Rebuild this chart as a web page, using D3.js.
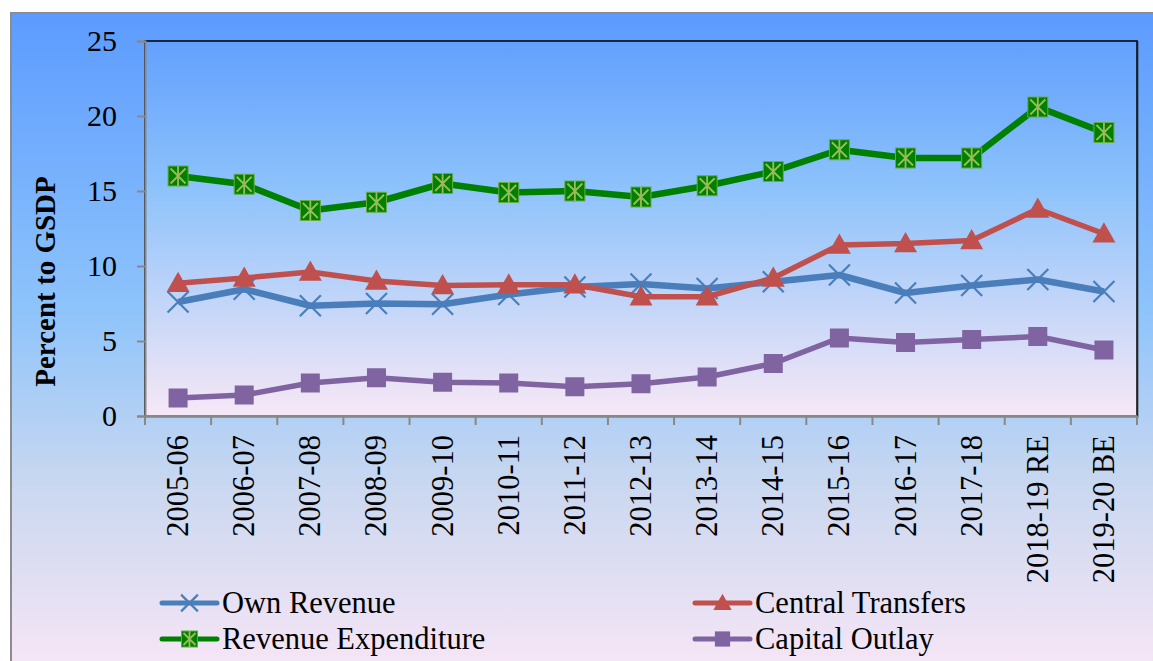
<!DOCTYPE html>
<html>
<head>
<meta charset="utf-8">
<script src="https://cdn.jsdelivr.net/npm/d3@7"></script>
<style>
  body { margin: 0; background: #fff; }
  text { font-family: "Liberation Serif", "Times New Roman", serif; }
</style>
</head>
<body>
<svg width="1153" height="661"></svg>
<script>
var years = ['2005-06','2006-07','2007-08','2008-09','2009-10','2010-11','2011-12','2012-13',
             '2013-14','2014-15','2015-16','2016-17','2017-18','2018-19 RE','2019-20 BE'];

var ownRevenue      = [7.6, 8.45, 7.35, 7.5, 7.45, 8.1, 8.6, 8.8, 8.5, 8.95, 9.4, 8.2, 8.7, 9.1, 8.3];
var centralTransfer = [8.85, 9.2, 9.6, 9.0, 8.7, 8.75, 8.75, 7.95, 7.95, 9.2, 11.4, 11.5, 11.7, 13.8, 12.15];
var revExpenditure  = [16.0, 15.45, 13.7, 14.25, 15.5, 14.9, 15.0, 14.6, 15.35, 16.3, 17.75, 17.2, 17.2, 20.6, 18.9];
var capitalOutlay   = [1.2, 1.4, 2.2, 2.55, 2.25, 2.2, 1.95, 2.15, 2.6, 3.5, 5.2, 4.9, 5.1, 5.3, 4.4];

var yTicks = [0, 5, 10, 15, 20, 25];

var series = [
  {name: 'Own Revenue', values: ownRevenue, color: '#4a7ebb', width: 6.5, marker: 'x'},
  {name: 'Central Transfers', values: centralTransfer, color: '#c0504d', width: 5.5, marker: 'tri'},
  {name: 'Revenue Expenditure', values: revExpenditure, color: '#008000', width: 6.5, marker: 'star'},
  {name: 'Capital Outlay', values: capitalOutlay, color: '#8064a2', width: 5.5, marker: 'sq'}
];

var svg = d3.select('svg');
var defs = svg.append('defs');

var outerGrad = defs.append('linearGradient').attr('id','outerGrad')
    .attr('x1',0).attr('y1',0).attr('x2',0).attr('y2',1);
outerGrad.append('stop').attr('offset','0%').attr('stop-color','#5c9bff');
outerGrad.append('stop').attr('offset','45%').attr('stop-color','#8ec4fb');
outerGrad.append('stop').attr('offset','72%').attr('stop-color','#cad8f0');
outerGrad.append('stop').attr('offset','100%').attr('stop-color','#f8e6f6');

var plotGrad = defs.append('linearGradient').attr('id','plotGrad')
    .attr('x1',0).attr('y1',0).attr('x2',0).attr('y2',1);
plotGrad.append('stop').attr('offset','0%').attr('stop-color','#62a0fd');
plotGrad.append('stop').attr('offset','40%').attr('stop-color','#8ec3fb');
plotGrad.append('stop').attr('offset','100%').attr('stop-color','#f7e8f6');

// outer chart area (runs past the right/bottom edge like the source)
svg.append('rect')
    .attr('x', 11).attr('y', 13).attr('width', 1160).attr('height', 660)
    .attr('fill', 'url(#outerGrad)')
    .attr('stroke', '#8c8c8c').attr('stroke-width', 2);

var plotL = 145, plotT = 41, plotW = 992, plotH = 375;

var x = d3.scaleBand().domain(years).range([plotL, plotL + plotW]);
var y = d3.scaleLinear().domain([0, 25]).range([plotT + plotH, plotT]);

// plot area
svg.append('rect')
    .attr('x', plotL + 1).attr('y', plotT + 1).attr('width', plotW).attr('height', plotH)
    .attr('fill', 'none').attr('stroke', '#333').attr('stroke-opacity', 0.35).attr('stroke-width', 2);
svg.append('rect')
    .attr('x', plotL).attr('y', plotT).attr('width', plotW).attr('height', plotH)
    .attr('fill', 'url(#plotGrad)')
    .attr('stroke', '#000').attr('stroke-width', 1.5);

// y axis
var yAxis = svg.append('g')
    .attr('transform', 'translate(' + plotL + ',0)')
    .call(d3.axisLeft(y).tickValues(yTicks).tickSize(8).tickPadding(20));
yAxis.select('.domain').attr('stroke', '#888').attr('stroke-width', 2);
yAxis.selectAll('.tick line').attr('stroke', '#888').attr('stroke-width', 2);
yAxis.selectAll('.tick text')
    .attr('font-size', 30).attr('fill', '#000')
    .attr('font-family', '"Liberation Serif", serif');

// x axis, ticks on category boundaries
var xAxis = svg.append('g')
    .attr('transform', 'translate(0,' + (plotT + plotH) + ')');
xAxis.append('line')
    .attr('x1', plotL).attr('x2', plotL + plotW)
    .attr('stroke', '#888').attr('stroke-width', 2);
xAxis.selectAll('.xtick')
    .data(years.concat(['end']))
    .enter().append('line')
    .attr('x1', function(d, i){ return plotL + i * x.step(); })
    .attr('x2', function(d, i){ return plotL + i * x.step(); })
    .attr('y1', 0).attr('y2', 9)
    .attr('stroke', '#888').attr('stroke-width', 2);
xAxis.selectAll('.xlab')
    .data(years)
    .enter().append('text')
    .attr('transform', function(d){
        return 'translate(' + (x(d) + x.bandwidth() / 2 + 10) + ',19) rotate(-90)';
    })
    .attr('text-anchor', 'end')
    .attr('font-size', 30.5)
    .text(function(d){ return d; });

// y title
svg.append('text')
    .attr('transform', 'translate(55,' + (plotT + plotH / 2 + 53) + ') rotate(-90)')
    .attr('text-anchor', 'middle')
    .attr('font-size', 29).attr('font-weight', 'bold')
    .text('Percent to GSDP');

function drawMarker(g, type, color, cx, cy, scale) {
    var s = scale || 1;
    if (type === 'x') {
        var r = 10.5 * s;
        g.append('path')
            .attr('d', 'M' + (cx - r) + ',' + (cy - r) + 'L' + (cx + r) + ',' + (cy + r) +
                       'M' + (cx - r) + ',' + (cy + r) + 'L' + (cx + r) + ',' + (cy - r))
            .attr('stroke', color).attr('stroke-width', 2.2).attr('fill', 'none');
    } else if (type === 'tri') {
        var h = 11.5 * s;
        g.append('path')
            .attr('d', 'M' + cx + ',' + (cy - h) + 'L' + (cx + h) + ',' + (cy + h * 0.75) +
                       'L' + (cx - h) + ',' + (cy + h * 0.75) + 'Z')
            .attr('fill', color);
    } else if (type === 'star') {
        var a = 10 * s;
        g.append('rect')
            .attr('x', cx - a).attr('y', cy - a).attr('width', 2 * a).attr('height', 2 * a)
            .attr('fill', '#008000').attr('stroke', '#6aaa45').attr('stroke-width', 1);
        var b = a * 0.75;
        g.append('path')
            .attr('d', 'M' + (cx - b) + ',' + (cy - b) + 'L' + (cx + b) + ',' + (cy + b) +
                       'M' + (cx - b) + ',' + (cy + b) + 'L' + (cx + b) + ',' + (cy - b) +
                       'M' + cx + ',' + (cy - a) + 'L' + cx + ',' + (cy + a))
            .attr('stroke', '#9bbb59').attr('stroke-width', 1.8).attr('fill', 'none');
    } else if (type === 'sq') {
        var q = 9.5 * s;
        g.append('rect')
            .attr('x', cx - q).attr('y', cy - q).attr('width', 2 * q).attr('height', 2 * q)
            .attr('fill', color);
    }
}

var line = d3.line()
    .x(function(d, i){ return x(years[i]) + x.bandwidth() / 2; })
    .y(function(d){ return y(d); });

series.forEach(function(s) {
    var g = svg.append('g');
    g.append('path')
        .attr('d', line(s.values))
        .attr('fill', 'none')
        .attr('stroke', s.color)
        .attr('stroke-width', s.width)
        .attr('stroke-linejoin', 'round');
    s.values.forEach(function(v, i) {
        drawMarker(g, s.marker, s.color, x(years[i]) + x.bandwidth() / 2, y(v));
    });
});

// legend
var legendPos = [
    {x: 162, y: 603}, {x: 695, y: 603}, {x: 162, y: 639}, {x: 695, y: 639}
];
series.forEach(function(s, i) {
    var p = legendPos[i];
    var g = svg.append('g');
    g.append('line')
        .attr('x1', p.x).attr('x2', p.x + 55)
        .attr('y1', p.y).attr('y2', p.y)
        .attr('stroke', s.color).attr('stroke-width', 5).attr('stroke-linecap', 'round');
    drawMarker(g, s.marker, s.color, p.x + 27.5, p.y, 0.8);
    g.append('text')
        .attr('x', p.x + 60).attr('y', p.y + 10)
        .attr('font-size', 30.5)
        .text(s.name);
});
</script>
</body>
</html>
